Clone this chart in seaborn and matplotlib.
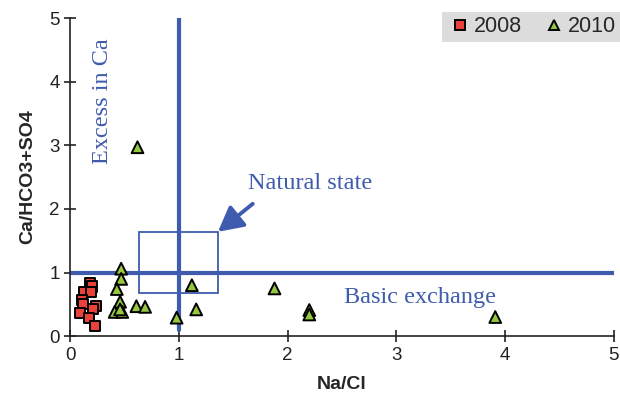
import pandas as pd
import matplotlib
matplotlib.use("Agg")
import matplotlib.pyplot as plt
import seaborn as sns

# Na/Cl and Ca/(HCO3+SO4) ratios
na_cl_2008 = [0.18, 0.20, 0.13, 0.19, 0.11, 0.12, 0.24, 0.21, 0.09, 0.17, 0.23]
ca_2008 = [0.84, 0.78, 0.70, 0.70, 0.57, 0.51, 0.47, 0.42, 0.36, 0.29, 0.16]

na_cl_2010 = [0.62, 0.47, 0.47, 0.43, 0.46, 0.41, 0.48, 0.46, 0.61, 0.69,
              0.98, 1.12, 1.16, 1.88, 2.20, 2.20, 3.91]
ca_2010 = [2.97, 1.06, 0.90, 0.74, 0.54, 0.38, 0.38, 0.42, 0.47, 0.46,
           0.29, 0.80, 0.42, 0.75, 0.41, 0.34, 0.30]

df = pd.DataFrame({
    "Na/Cl": na_cl_2008 + na_cl_2010,
    "Ca/HCO3+SO4": ca_2008 + ca_2010,
    "year": ["2008"] * len(na_cl_2008) + ["2010"] * len(na_cl_2010),
})

blue = "#3f5bad"
sns.set_style("ticks")
plt.rcParams["font.family"] = ["Liberation Sans", "DejaVu Sans"]

fig = plt.figure(figsize=(6.2, 4.03), dpi=100)
ax = fig.add_axes([0.113, 0.166, 0.877, 0.789])

# reference lines and box
ax.axhline(1, color=blue, lw=3, zorder=1)
ax.plot([1, 1], [0.1, 5], color=blue, lw=3, solid_capstyle="round", zorder=1)
ax.add_patch(plt.Rectangle((0.63, 0.68), 0.73, 0.96, fill=False,
                           ec=blue, lw=1.3, zorder=1))

sns.scatterplot(data=df, x="Na/Cl", y="Ca/HCO3+SO4", hue="year", style="year",
                size="year", sizes={"2008": 52, "2010": 72},
                palette={"2008": "#e8423b", "2010": "#95c83f"},
                markers={"2008": "s", "2010": "^"},
                edgecolor="black", linewidth=1.4, ax=ax, zorder=3)

ax.annotate("", xy=(1.36, 1.64), xytext=(1.68, 2.08),
            arrowprops=dict(arrowstyle="-|>,head_length=1.5,head_width=0.8",
                            color=blue, lw=2.8, shrinkA=0, shrinkB=0))
serif = ["Liberation Serif", "DejaVu Serif"]
ax.text(2.21, 2.4, "Natural state", color=blue, fontsize=17.5,
        family=serif, ha="center", va="center")
ax.text(3.22, 0.61, "Basic exchange", color=blue, fontsize=17.5,
        family=serif, ha="center", va="center")
ax.text(0.3, 3.7, "Excess in Ca", color=blue, fontsize=17.5,
        family=serif, ha="center", va="center", rotation=90)

ax.set_xlim(0, 5)
ax.set_ylim(0, 5)
ax.set_xticks(range(6))
ax.set_yticks(range(6))
ax.tick_params(direction="inout", length=8, width=1.2, labelsize=13.5,
               colors="#222222")
ax.set_xlabel("Na/Cl", fontsize=14, fontweight="bold", labelpad=9)
ax.set_ylabel("Ca/HCO3+SO4", fontsize=14, fontweight="bold", labelpad=9)
sns.despine(ax=ax)
for sp in ax.spines.values():
    sp.set_linewidth(1.2)
    sp.set_color("#222222")

ax.get_legend().remove()
handles, labels = ax.get_legend_handles_labels()
for h in handles:
    h.set_markersize(7)
leg = fig.legend(handles, labels, loc="upper right",
                 bbox_to_anchor=(1.0, 0.97), ncol=2, frameon=True,
                 fontsize=15.5, handletextpad=0.0, columnspacing=0.8,
                 borderpad=0.2, handlelength=1.3, borderaxespad=0)
leg.get_frame().set_facecolor("#dcdcdc")
leg.get_frame().set_edgecolor("none")
leg.get_frame().set_boxstyle("square", pad=0)
leg.get_frame().set_alpha(1)

fig.savefig("out.png", dpi=100)
